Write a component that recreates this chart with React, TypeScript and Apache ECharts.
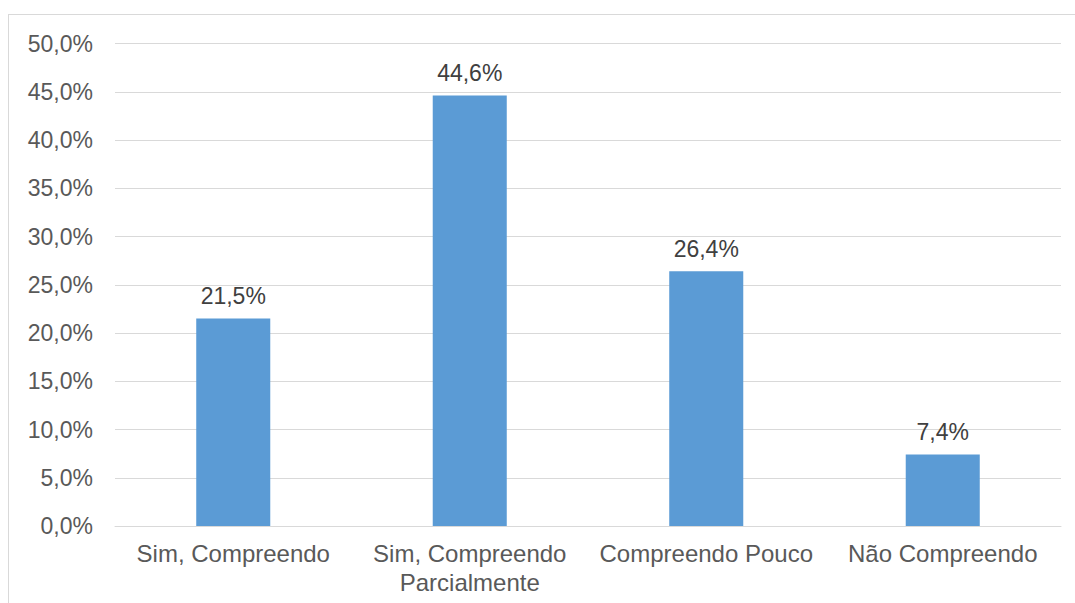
import React, { useEffect, useRef } from "react";
import * as echarts from "echarts";

const categories = ["Sim, Compreendo", "Sim, Compreendo\nParcialmente", "Compreendo Pouco", "Não Compreendo"];
const values = [21.5, 44.6, 26.4, 7.4];
const yTicks = { min: 0, max: 50, interval: 5 };

const fmt = (v: number) => v.toFixed(1).replace(".", ",") + "%";

export default function App() {
  const ref = useRef<HTMLDivElement>(null);
  useEffect(() => {
    const chart = echarts.init(ref.current!, null, { renderer: "svg" });
    chart.setOption({
      animation: false,
      backgroundColor: "#ffffff",
      textStyle: { fontFamily: "Liberation Sans, Arial, sans-serif" },
      graphic: [
        { type: "line", shape: { x1: 8, y1: 14.5, x2: 1075, y2: 14.5 }, style: { stroke: "#D9D9D9", lineWidth: 1 } },
        { type: "line", shape: { x1: 8.5, y1: 14, x2: 8.5, y2: 603 }, style: { stroke: "#D9D9D9", lineWidth: 1 } },
      ],
      grid: { left: 115, right: 14, top: 43.5, bottom: 77, containLabel: false },
      xAxis: {
        type: "category",
        data: categories,
        axisLine: { lineStyle: { color: "#D9D9D9", width: 1 } },
        axisTick: { show: false },
        axisLabel: { color: "#595959", fontSize: 24, margin: 13, lineHeight: 29, interval: 0 },
      },
      yAxis: {
        type: "value",
        min: yTicks.min,
        max: yTicks.max,
        interval: yTicks.interval,
        axisLine: { show: false },
        axisTick: { show: false },
        splitLine: { lineStyle: { color: "#D9D9D9", width: 1 } },
        axisLabel: { color: "#595959", fontSize: 23, margin: 22, formatter: (v: number) => fmt(v) },
      },
      series: [
        {
          type: "bar",
          data: values,
          barWidth: "31.3%",
          itemStyle: { color: "#5B9BD5" },
          label: {
            show: true,
            position: "top",
            distance: 11,
            color: "#404040",
            fontSize: 23,
            formatter: (p: any) => fmt(p.value),
          },
        },
      ],
    });
    return () => chart.dispose();
  }, []);
  return <div ref={ref} style={{ position: "absolute", left: 0, top: 0, width: 1075, height: 603 }} />;
}
